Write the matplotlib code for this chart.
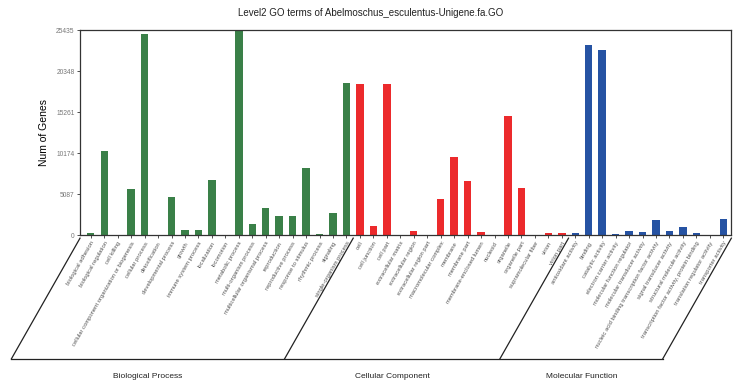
import numpy as np
import matplotlib
matplotlib.use('Agg')
import matplotlib.pyplot as plt
from matplotlib.transforms import blended_transform_factory

plt.rcParams['font.family'] = ['Liberation Sans', 'DejaVu Sans']

title = 'Level2 GO terms of Abelmoschus_esculentus-Unigene.fa.GO'

bp_terms = ['biological adhesion', 'biological regulation', 'cell killing',
            'cellular component organization or biogenesis', 'cellular process',
            'detoxification', 'developmental process', 'growth',
            'immune system process', 'localization', 'locomotion',
            'metabolic process', 'multi-organism process',
            'multicellular organismal process', 'reproduction',
            'reproductive process', 'response to stimulus', 'rhythmic process',
            'signaling', 'single-organism process']
bp_counts = [250, 10420, 20, 5730, 24940, 30, 4730, 660, 620, 6810, 15,
             25360, 1330, 3320, 2370, 2350, 8340, 120, 2780, 18880]

cc_terms = ['cell', 'cell junction', 'cell part', 'extracellular matrix',
            'extracellular region', 'extracellular region part',
            'macromolecular complex', 'membrane', 'membrane part',
            'membrane-enclosed lumen', 'nucleoid', 'organelle', 'organelle part',
            'supramolecular fiber', 'virion', 'virion part']
cc_counts = [18840, 1120, 18840, 10, 500, 10, 4520, 9670, 6720, 370, 30,
             14770, 5810, 10, 250, 250]

mf_terms = ['antioxidant activity', 'binding', 'catalytic activity',
            'electron carrier activity', 'molecular function regulator',
            'molecular transducer activity',
            'nucleic acid binding transcription factor activity',
            'signal transducer activity', 'structural molecule activity',
            'transcription factor activity, protein binding',
            'translation regulator activity', 'transporter activity']
mf_counts = [250, 23570, 23030, 80, 500, 330, 1830, 460, 1040, 250, 10, 1950]

groups = ['Biological Process', 'Cellular Component', 'Molecular Function']
group_colors = ['#3a8048', '#ec2a2c', '#2653a3']
yticks = [0, 5087, 10174, 15261, 20348, 25435]

terms = bp_terms + cc_terms + mf_terms
counts = bp_counts + cc_counts + mf_counts
sizes = [len(bp_terms), len(cc_terms), len(mf_terms)]
colors = []
for s, c in zip(sizes, group_colors):
    colors += [c] * s

fig = plt.figure(figsize=(7.41, 3.86), dpi=100)
ax = fig.add_axes([0.108, 0.391, 0.879, 0.530])

x = np.arange(len(terms))
ax.bar(x, counts, width=0.55, color=colors)
ax.set_xlim(-0.8, len(terms) - 0.4)
ax.set_ylim(0, yticks[-1])
ax.set_yticks(yticks)
ax.set_yticklabels([str(v) for v in yticks], fontsize=4.8, color='#777777')
ax.set_xticks(x)
ax.set_xticklabels(terms, rotation=60, ha='right', rotation_mode='anchor',
                   fontsize=4.2, color='#555555')
ax.tick_params(axis='both', length=2, width=0.6, color='#333333', pad=2)
for sp in ax.spines.values():
    sp.set_linewidth(0.9)
    sp.set_color('#333333')
ax.set_ylabel('Num of Genes', fontsize=7.5, labelpad=5)
fig.suptitle(title, fontsize=7, y=0.978, color='#222222')

# group brackets under the axis
tr = blended_transform_factory(ax.transData, ax.transAxes)
slant = 5.1
y_top, y_bot = -0.015, -0.605
edges = np.concatenate([[-0.8], np.cumsum(sizes) - 0.5])
edges[-1] = len(terms) - 0.4
for e in edges:
    ax.plot([e, e - slant], [y_top, y_bot], color='#222222', lw=0.9,
            transform=tr, clip_on=False)
ax.plot([edges[0] - slant, edges[-1] - slant], [y_bot, y_bot],
        color='#222222', lw=0.9, transform=tr, clip_on=False)
for i, g in enumerate(groups):
    cx = (edges[i] + edges[i + 1]) / 2 - slant
    ax.text(cx, -0.69, g, transform=tr, ha='center', va='center', fontsize=6,
            color='#222222')

fig.savefig('out.png', dpi=100)
